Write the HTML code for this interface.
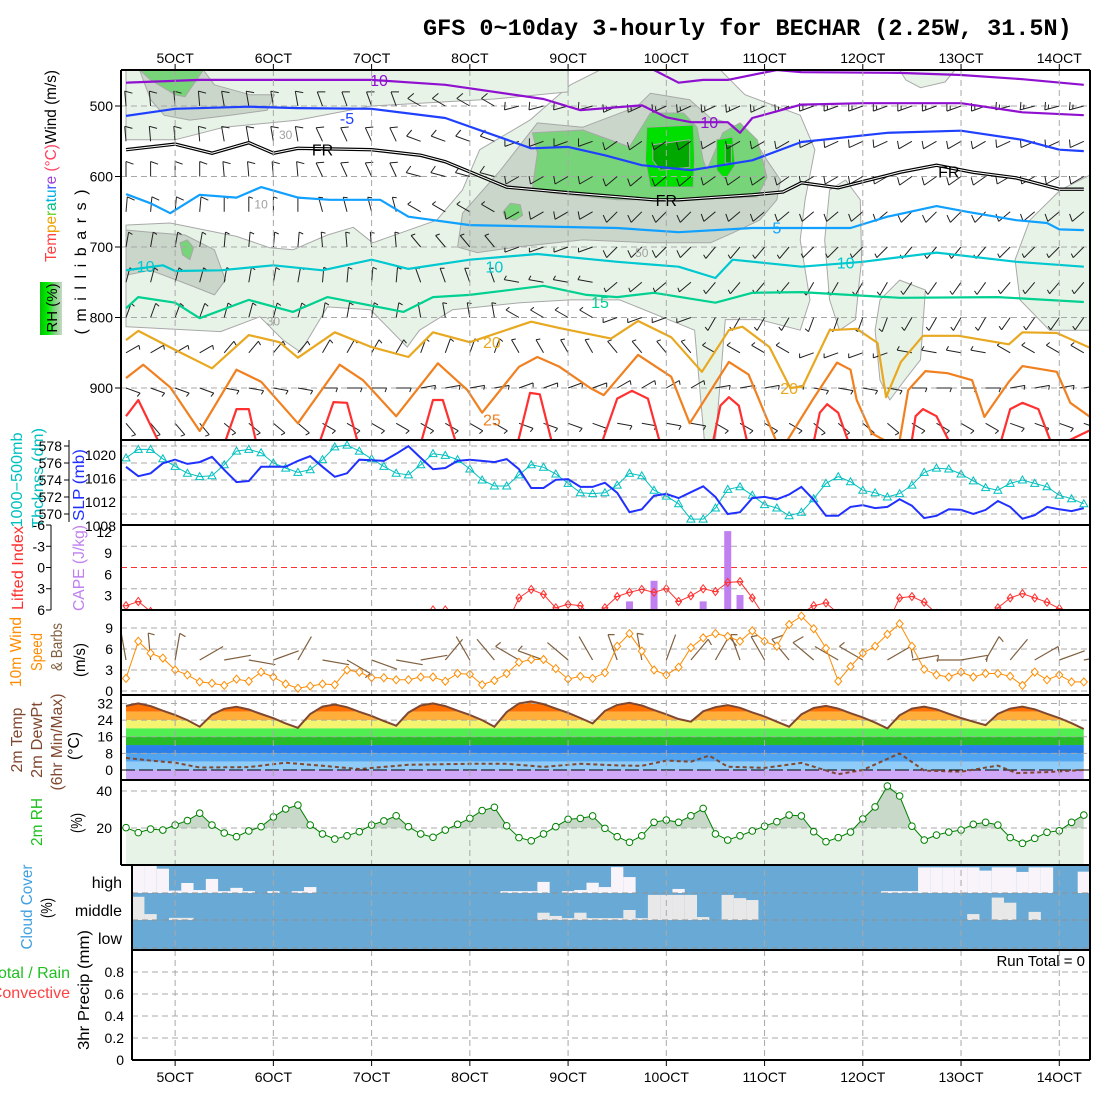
<!DOCTYPE html>
<html><head><meta charset="utf-8">
<style>
html,body{margin:0;padding:0;background:#fff;}
svg{display:block;font-family:"Liberation Sans",sans-serif;}
</style></head>
<body>
<svg id="chart" width="1100" height="1100" viewBox="0 0 1100 1100">
<defs>
<linearGradient id="rhgrad" x1="0" y1="0" x2="1" y2="0">
<stop offset="0" stop-color="#00c000"/><stop offset="0.35" stop-color="#00f000"/><stop offset="0.65" stop-color="#78d478"/><stop offset="1" stop-color="#c8d8c8"/>
</linearGradient>
<clipPath id="upClip"><rect x="121" y="70" width="969" height="370"/></clipPath>
<clipPath id="liClip"><rect x="121" y="525" width="969" height="85"/></clipPath>
<clipPath id="wClip"><rect x="121" y="610" width="969" height="85"/></clipPath>
<clipPath id="cloudClip"><rect x="132" y="865" width="958" height="85"/></clipPath>
</defs>
<rect x="0" y="0" width="1100" height="1100" fill="#fff"/>
<text x="423" y="35" font-family="Liberation Mono, monospace" font-weight="bold" font-size="23.5" fill="#000">GFS 0~10day 3-hourly for BECHAR (2.25W, 31.5N)</text>

<!-- left labels -->
<g font-size="15.5">
<text transform="translate(56,166) rotate(-90)" text-anchor="middle" textLength="192" lengthAdjust="spacingAndGlyphs"><tspan fill="#ff4040">Tem</tspan><tspan fill="#f0a000">pe</tspan><tspan fill="#60d020">r</tspan><tspan fill="#00c080">a</tspan><tspan fill="#00b0e0">tu</tspan><tspan fill="#3050ff">r</tspan><tspan fill="#a040e0">e</tspan><tspan fill="#ff4060"> (°C)</tspan><tspan fill="#000">Wind (m/s)</tspan></text>
<rect x="40" y="282" width="22" height="53" fill="url(#rhgrad)"/>
<text transform="translate(57,308) rotate(-90)" text-anchor="middle" font-size="15" fill="#000">RH (%)</text>
<text transform="translate(86,262) rotate(-90)" text-anchor="middle" font-size="16" textLength="145" lengthAdjust="spacing">(millibars)</text>
</g>
<g font-size="15.5">
<text transform="translate(22,480) rotate(-90)" text-anchor="middle" fill="#00c0c0" textLength="95" lengthAdjust="spacingAndGlyphs">1000−500mb</text>
<text transform="translate(43,478) rotate(-90)" text-anchor="middle" fill="#00c0c0" textLength="100" lengthAdjust="spacingAndGlyphs">Thcknss (dm)</text>
<text transform="translate(84,485) rotate(-90)" text-anchor="middle" fill="#2030ff" textLength="72" lengthAdjust="spacingAndGlyphs">SLP (mb)</text>
</g>
<g font-size="15.5">
<text transform="translate(23,568) rotate(-90)" text-anchor="middle" fill="#ff3030" textLength="84" lengthAdjust="spacingAndGlyphs">Lifted Index</text>
<text transform="translate(84,568) rotate(-90)" text-anchor="middle" fill="#c080f0" textLength="86" lengthAdjust="spacingAndGlyphs">CAPE (J/kg)</text>
</g>
<g font-size="15.5">
<text transform="translate(21,652) rotate(-90)" text-anchor="middle" fill="#ff8c00" textLength="70" lengthAdjust="spacingAndGlyphs">10m Wind</text>
<text transform="translate(42,652) rotate(-90)" text-anchor="middle" fill="#ff8c00" textLength="38" lengthAdjust="spacingAndGlyphs">Speed</text>
<text transform="translate(62,647) rotate(-90)" text-anchor="middle" fill="#806040" textLength="48" lengthAdjust="spacingAndGlyphs">&amp; Barbs</text>
<text transform="translate(85,660) rotate(-90)" text-anchor="middle" fill="#000" textLength="34" lengthAdjust="spacingAndGlyphs">(m/s)</text>
</g>
<g font-size="15.5" fill="#804830">
<text transform="translate(22,740) rotate(-90)" text-anchor="middle" textLength="65" lengthAdjust="spacingAndGlyphs">2m Temp</text>
<text transform="translate(42,740) rotate(-90)" text-anchor="middle" textLength="76" lengthAdjust="spacingAndGlyphs">2m DewPt</text>
<text transform="translate(62,742) rotate(-90)" text-anchor="middle" textLength="97" lengthAdjust="spacingAndGlyphs">(6hr Min/Max)</text>
<text transform="translate(79,746) rotate(-90)" text-anchor="middle" fill="#000" textLength="28" lengthAdjust="spacingAndGlyphs">(°C)</text>
</g>
<g font-size="15.5">
<text transform="translate(42,822) rotate(-90)" text-anchor="middle" fill="#20c020" textLength="48" lengthAdjust="spacingAndGlyphs">2m RH</text>
<text transform="translate(82,823) rotate(-90)" text-anchor="middle" fill="#000" textLength="20" lengthAdjust="spacingAndGlyphs">(%)</text>
</g>
<g font-size="15.5">
<text transform="translate(32,907) rotate(-90)" text-anchor="middle" fill="#40a0e0" textLength="85" lengthAdjust="spacingAndGlyphs">Cloud Cover</text>
<text transform="translate(52,908) rotate(-90)" text-anchor="middle" fill="#000" textLength="20" lengthAdjust="spacingAndGlyphs">(%)</text>
<text x="122" y="888" text-anchor="end" font-size="16">high</text>
<text x="122" y="916" text-anchor="end" font-size="16">middle</text>
<text x="122" y="944" text-anchor="end" font-size="16">low</text>
</g>
<g font-size="16">
<text x="70" y="978" text-anchor="end" fill="#20c020">Total / Rain</text>
<text x="70" y="998" text-anchor="end" fill="#ff4040">Convective</text>
<text transform="translate(89,990) rotate(-90)" text-anchor="middle" fill="#000" textLength="120" lengthAdjust="spacingAndGlyphs">3hr Precip (mm)</text>
<text x="1085" y="966" text-anchor="end" font-size="15">Run Total = 0</text>
</g>
</svg>
<script>
// ===== data =====
const dayLabels=['5OCT','6OCT','7OCT','8OCT','9OCT','10OCT','11OCT','12OCT','13OCT','14OCT'];
const dayT=[4,12,20,28,36,44,52,60,68,76];
const pTicks=[500,600,700,800,900];
const thkTicks=[578,576,574,572,570];
const slpTicks=[1020,1016,1012,1008];
const liTicks=[-6,-3,0,3,6];
const capeTicks=[12,9,6,3];
const windTicks=[0,3,6,9];
const tempTicks=[0,8,16,24,32];
const rhTicks=[20,40];
const precipTicks=[0,0.2,0.4,0.6,0.8];

const temp2m=[30.8,32,30.7,28.5,26.5,24,20.8,26.6,29.4,
30.4,29.1,26.9,24.9,22.4,20.3,26.9,30.5,
31.5,30.2,28,26,23.5,21.3,27.6,31,
32,30.7,28.5,26.5,24,20.8,27.9,32,
33,31.7,29.5,27.5,25,22.4,28.4,31.3,
32.3,31,28.8,26.8,24.5,23.2,28.2,30.2,
31.2,29.9,27.7,25.7,23.2,20.8,26.8,29.8,
30.8,29.5,27.3,25.3,22.8,20,26.3,29.5,
30.5,29.2,27,25,23.2,21.6,27,29.5,
30.5,29.2,27,25,22.5,19.7];
const dewT=[0,2,4,6,10,13,16,19,23,28,31,34,37,40,42,44,46,47.5,49,52,55,58,60,63,65,68,71,72.5,75,78];
const dewV=[5.8,4.5,3.5,1.2,1.4,3.5,2,0.5,2.5,3,3,1.5,3,2.2,2,4.5,4,6.9,1.6,1,3.4,-2,0,8,-0.3,-0.8,2.1,-1.5,-1,0];
const rh2m=[20.2,17.5,19.4,18.9,21.6,24,28,21.6,17.3,15.3,
18.4,20.7,26,30.3,32.4,21.6,16.8,14,15.8,18,
21.6,23.8,26.6,20.7,16.8,15,18.9,22,25.2,29.4,
31.2,21.2,14.8,13.1,16.8,20.7,24.7,25.2,26.5,19.8,
15.3,12.3,15.8,23.1,24.3,23.1,26.6,30.6,16.8,13.5,
15.8,18.4,21,23.4,27,26.5,18,12.6,14.8,17.8,
24.9,31.4,42.7,37.3,21,13.5,16.2,17.8,18.9,22,
23.1,21.6,14.8,11.7,14.4,17.7,18.5,23.1,27];
const wind10=[1.8,7.1,5.4,4.7,3.0,2.3,1.3,1.1,0.8,1.7,
1.4,2.7,2.0,1.0,0.4,0.7,1.0,0.9,3.0,2.7,
1.9,1.9,1.6,1.6,2.0,2.0,1.4,2.5,2.4,0.9,
1.5,2.5,4.1,4.5,4.5,3.2,1.7,2.1,1.8,2.6,
6.4,8.2,5.7,3.0,2.3,3.4,6.2,7.6,8.2,7.8,
7.1,8.6,7.1,6.4,9.5,10.7,8.9,6.1,1.4,3.5,
5.4,6.4,8.1,9.6,6.4,3.1,2.3,2.0,2.7,2.0,
2.5,2.5,2.1,0.8,2.7,1.6,2.3,1.3,1.3];
const sfcDir=[350,355,10,60,80,100,70,30,100,120,110,100,80,40,330,320,300,290,310,330,340,350,20,40,30,340,330,320,310,300,300,60,80,90,80,30,40,60,70,80];
const thk=[576.6,577.6,577.6,576.5,575.6,574.8,574.4,574.5,575.8,577.4,577.6,577.2,576.0,
575.4,574.9,575.2,576.4,577.9,578.1,577.4,576.5,575.6,574.8,574.6,575.8,577.1,576.9,576.4,575.3,574.0,573.3,573.3,574.6,575.8,575.5,574.7,573.6,572.5,572.4,572.5,573.4,574.8,574.5,572.8,572.1,571.2,569.4,569.4,570.7,572.9,573.2,572.2,571.1,570.7,569.8,
570.2,571.8,573.6,574.4,573.8,572.8,572.5,572.0,572.4,573.4,574.9,575.4,575.3,574.7,573.9,573.1,572.8,573.6,574.0,573.6,573.2,572.2,571.8,571.2];
const slp=[1018.0,1016.4,1016.9,1018.6,1019.2,1018.5,1018.8,1019.7,1017.5,1015.4,1015.6,1018.0,1018.0,
1018.0,1019.0,1019.8,1018.0,1016.3,1016.9,1019.2,1019.1,1019.0,1020.2,1021.5,1019.5,
1017.6,1017.8,1019.0,1019.2,1019.0,1018.8,1019.3,1017.6,1014.4,1014.4,1015.8,1015.9,1014.6,1014.6,1015.3,1013.6,
1010.3,1010.8,1013.1,1013.4,1012.7,1013.7,1014.7,1012.9,1010.0,1010.3,1012.7,1012.9,1012.5,1013.3,1014.6,1012.4,
1009.7,1009.7,1011.2,1011.5,1011.0,1011.2,1012.5,1011.4,1009.3,1009.7,1010.8,1010.7,1010.0,1010.7,1012.2,1011.2,1009.2,1009.8,1011.2,1010.8,1010.5,1011.0];
const liftedIndex=[5.4,4.8,6.2,8,8,8,8,8,8,8,8,8,8,8,8,8,8,8,8,8,8,8,8,8,8,
6.0,6.0,8,8,8,8,8,4.3,3.1,3.8,5.7,5.2,5.4,7,5.7,4.1,3.5,3.1,3.5,3.0,4.8,4.0,3.0,3.4,2.1,2.0,4.3,7,8,8,6.5,5.4,5.0,6.5,8,8,8,8,4.3,4.1,4.9,6.5,8,8,8,8,5.7,4.3,3.7,4.3,4.9,5.8,7,8];
const capeT=[41,43,47,49,50];
const capeV=[2.2,5.1,2.2,12.1,3.1];
const cloudHigh=[100,100,100,90,9,37,11,52,7,19,7,0,7,0,7,22,
0,0,0,0,0,0,0,0,0,0,0,0,0,0,0,
7,7,7,41,0,7,11,38,22,96,59,0,0,0,15,
0,0,0,0,0,0,0,0,0,0,0,0,0,0,0,0,
7,7,7,95,95,95,95,95,83,95,95,78,95,95,0,0,79];
const cloudMid=[0,86,22,0,8,8,0,0,0,0,
0,0,0,0,0,0,0,0,0,0,
0,0,0,0,0,0,0,0,0,0,
0,0,0,0,27,15,7,27,7,7,
7,37,7,93,93,93,93,11,0,93,
81,74,0,0,0,0,0,0,0,0,
0,0,0,0,0,0,0,0,0,22,
0,83,64,0,30,0,0,0,0];
const cloudLow=new Array(79).fill(0);

// isotherms (time step, pressure mb)
const isoM15T=[0,40,43,45,47,49,53,55,63,68,73,78];
const isoM15P=[430,440,449,467,463,463,449,452,453,456,462,470];
const isoM10T=[0,6,12,20,26,34,37,42,44,46,49,50,51,55,60,68,73,78];
const isoM10P=[467,463,463,463,470,490,506,499,516,523,523,538,517,498,496,496,509,513];
const isoM5T=[0,4,10,14,20,26,33,36,39,42,46,51,55,62,68,73,76,78];
const isoM5P=[514,504,501,503,504,517,560,558,570,584,591,577,551,538,535,548,562,564];
const isoFRT=[0,4,7,10,12,14,20,24,26,31,36,43,45,51,53.5,55,58,63,66,69,72.5,76,78];
const isoFRP=[562,554,567,552,567,560,562,570,579,615,623,633,633,626,622,609,616,594,584,594,602,618,618];
const iso5T=[0,2,3.6,6,9,11,14,16.6,20.7,23,28,40,45,51,59,62,66,68.5,72.5,75,76,78];
const iso5P=[625,638,652,626,630,615,630,633,633,657,669,673,679,673,673,657,642,650,662,666,675,676];
const iso10T=[0,3,4,7.7,12,16,20,23,28,33.5,40,45,48,49.4,55,60,66,72.5,78];
const iso10P=[733,726,734,733,726,733,718,731,718,710,721,728,744,718,728,721,708,721,728];
const iso15T=[0,1,4,6,10,13.6,16.4,22.6,25,28,34,37.5,40,43,48,51,55,63,71,78];
const iso15P=[787,771,779,801,775,792,771,792,771,768,755,768,771,765,779,765,764,772,771,778];
const iso20T=[0,1,4,7,10,12.5,14,17,20,23,25,28,33,35.3,39.5,41.7,44.4,46.9,49.1,50.2,52.4,54.1,55.1,57.3,59.5,61.2,61.9,63.1,64.9,67.8,71.9,73,75.8,78.5];
const iso20P=[832,819,846,872,825,835,857,821,842,856,821,835,806,815,830,805,828,877,818,813,842,900,898,818,816,836,913,863,826,826,838,821,822,843];
const iso25T=[0,1.4,3.6,6,9,11,14,17.4,19.3,22,25.4,27.8,29,32,33.5,35.3,37.8,38.9,41.7,44.4,45.9,49.1,50.7,53.3,55.9,57.9,59,59.5,60.7,62.9,63.7,65.1,66.9,68.9,69.9,71.9,73,75.8,76.9,78.5];
const iso25P=[886,867,899,961,874,891,950,867,889,940,865,903,935,870,856,870,900,910,853,884,950,863,881,990,917,864,874,917,964,985,903,876,879,889,941,891,869,877,921,941];
const iso30T=[0,1,2.9,7.9,9,10,10.7,15.6,16.9,18,19,23.9,25,25.8,27,31.8,32.9,33.7,34.8,38.6,40,41.2,42.5,43.6,47.7,48.4,49.1,49.9,50.7,55.9,56.5,57.1,58,59,63.9,64.3,64.9,66,67.3,71.1,72,73,74.3,75.5,78.5];
const iso30P=[940,917,985,985,930,930,985,985,920,921,985,985,917,917,985,985,907,909,985,985,915,904,915,985,985,925,913,925,985,985,935,923,935,985,985,940,930,940,985,985,930,921,930,985,960];

// RH (%) contour regions, vertices [time step, pressure mb]
const rh30Main=[[0,669],[3.6,666],[9,685],[11.7,701],[13.6,704],[16.4,683],[18.5,672],[20.1,694],[25.3,662],[27.4,619],[28.8,562],[32.9,520],[36.2,470],[38.6,449],[48.4,449],[50.4,484],[54.9,513],[56.1,562],[55.3,633],[54.9,690],[55.7,775],[54.9,818],[51.6,803],[48.8,803],[48,975],[47.1,975],[46.3,818],[40.2,775],[36.2,775],[32.1,779],[26.6,789],[23.9,818],[22.9,842],[19.9,789],[16.4,785],[14.2,849],[12.8,832],[10.9,799],[7.7,820],[0,813]];
const rh30TopLeft=[[0,449],[36,449],[36,480],[30,490],[20,500],[14,520],[8,530],[4,548],[0,548]];
const rh30StripA=[[57.3,619],[58.6,605],[59.8,633],[59.9,718],[59.4,803],[58.1,818],[57.3,775],[56.9,690]];
const rh30StripB=[[61.4,775],[63,747],[65.1,761],[64.7,860],[63.4,889],[62.2,917],[61.4,889],[61,818]];
const rh30Right=[[78.5,598],[76.1,619],[73.6,662],[72.4,718],[72.8,775],[75.2,818],[78.5,818]];
const rh30TopRight=[[63,449],[67.5,449],[66.7,466],[64.7,474],[63.5,463]];
const rh50TopLeft=[[1.1,449],[6.3,449],[7.2,470],[10.1,484],[12.1,484],[11.5,506],[8.5,513],[5.2,520],[3.1,513],[2,491]];
const rh50Left=[[0,676],[2,679],[4.8,683],[7.2,704],[8.1,747],[7.2,768],[5.2,754],[2,733],[0,740]];
const rh50Center=[[27,700],[27.4,652],[30.5,591],[33.5,524],[37.2,530],[41.6,501],[42.7,482],[45.9,491],[47.6,517],[48.9,523],[50.8,538],[52.2,577],[53.3,605],[53,633],[51.6,662],[49.4,680],[47.6,694],[42.7,694],[37.2,690],[31.8,700],[28.6,708]];
const rh70Center=[[33.1,538],[37.2,534],[41,558],[42.7,510],[45.4,510],[46.5,530],[47,577],[47.3,591],[48.6,538],[50,524],[51.4,548],[52.2,601],[51.4,629],[45.4,633],[40,633],[34.5,623],[33.1,615],[33.5,567]];
const rh70SmallA=[[30.7,650],[31.3,638],[32.1,640],[32.3,655],[31.7,662],[30.9,659]];
const rh70SmallB=[[4.4,694],[5.0,690],[5.5,701],[5.2,718],[4.6,711]];
const rh70TopLeft=[[1.1,449],[6.3,449],[4.8,487],[4,484],[2,463]];
const rh80A=[[42.4,530],[46.2,527],[46.3,577],[46.2,615],[42.7,615],[42.3,577]];
const rh80B=[[48.1,548],[49.4,544],[49.6,584],[48.8,605],[48.1,591]];
const rh90A=[[42.9,555],[45.9,548],[45.9,587],[43.5,591],[42.9,577]];
const rh90B=[[48.8,555],[49.3,555],[49.3,581],[48.8,581]];

// upper-air winds: levels, direction (deg from) and speed (m/s) per day
const windLevels=[500,550,600,650,700,750,800,850,900,950];
const windDir=[
[355,350,340,300,255,245,245,250,250,255],
[355,350,335,290,250,235,240,245,240,245],
[0,355,335,285,240,230,235,240,235,240],
[5,0,345,300,240,225,230,230,225,230],
[10,5,355,320,250,225,220,225,220,225],
[15,10,5,340,280,230,220,210,215,220],
[20,15,10,350,300,250,210,200,210,215],
[60,40,30,20,330,320,300,250,280,300],
[110,100,90,80,70,60,80,100,90,80],
[140,130,120,120,110,100,120,130,120,110]];
const windSpd=[
[12,12,10,10,12,14,15,14,13,13],
[10,10,9,9,11,12,12,11,11,11],
[8,8,8,8,9,10,10,9,9,9],
[8,7,7,7,8,9,8,8,8,8],
[7,7,6,6,7,8,7,7,7,7],
[6,6,5,5,6,7,6,6,6,6],
[5,5,5,4,5,5,5,5,5,5],
[3,3,3,3,3,4,3,3,3,3],
[4,4,4,4,4,4,4,4,4,4],
[5,5,5,5,5,5,5,5,5,5]];

// ===== axes =====
const X=t=>126+t*12.28;
const Yp=p=>106+(p-500)*0.705;
const Yth=v=>446+(578-v)*8.5;
const Ys=v=>455+(1020-v)*5.9;
const Yli=v=>567.5+v*7.08;
const Ycape=v=>617-v*7.1;
const Yw=v=>691-v*7.0;
const Yt=v=>770-v*2.08;
const Yrh=v=>865-v*1.85;
const Ypr=v=>1060-v*110;
const steps=temp2m.map((v,i)=>i);

const NS='http://www.w3.org/2000/svg';
const svg=document.getElementById('chart');
function mk(parent,tag,a){const e=document.createElementNS(NS,tag);for(const k in a)e.setAttribute(k,a[k]);parent.appendChild(e);return e;}
function pts(ts,vs,yf){return ts.map((t,i)=>X(t).toFixed(1)+','+yf(vs[i]).toFixed(1)).join(' ');}
function polyPts(arr){return arr.map(a=>X(a[0]).toFixed(1)+','+Yp(a[1]).toFixed(1)).join(' ');}
const GRID='#a8a8a8';

// ===== upper panel =====
const up=mk(svg,'g',{'clip-path':'url(#upClip)'});


const rhLayers=[
 [rh30Main,'#e8f3e8'],[rh30TopLeft,'#e8f3e8'],[rh30StripA,'#e8f3e8'],[rh30StripB,'#e8f3e8'],[rh30Right,'#e8f3e8'],[rh30TopRight,'#e8f3e8'],
 [rh50TopLeft,'#c9d6c9'],[rh50Left,'#c9d6c9'],[rh50Center,'#c9d6c9'],
 [rh70Center,'#78d478'],[rh70SmallA,'#78d478'],[rh70SmallB,'#78d478'],[rh70TopLeft,'#78d478'],
 [rh80A,'#00e000'],[rh80B,'#00e000'],[rh90A,'#00a800'],[rh90B,'#00a800']];
rhLayers.forEach(L=>{
 const e=mk(up,'polygon',{points:polyPts(L[0]),fill:L[1],stroke:'#a8a8a8','stroke-width':1,'stroke-linejoin':'round'});
 
 
});
pTicks.forEach(p=>{
 const e=mk(up,'line',{x1:121,x2:1090,y1:Yp(p),y2:Yp(p),stroke:GRID,'stroke-dasharray':'6,4'});
 
 
});
// barbs
function barbPath(x,y,dir,spd,L,F){
 const r=dir*Math.PI/180,dx=Math.sin(r),dy=-Math.cos(r);
 const ex=x+dx*L,ey=y+dy*L;
 const fr=(dir+110)*Math.PI/180,fx=Math.sin(fr),fy=-Math.cos(fr);
 let d='M'+x.toFixed(1)+','+y.toFixed(1)+'L'+ex.toFixed(1)+','+ey.toFixed(1);
 if(spd>=2.5){
  const len=spd>=7.5?F:F*0.55;
  d+='M'+ex.toFixed(1)+','+ey.toFixed(1)+'l'+(fx*len).toFixed(1)+','+(fy*len).toFixed(1);
 }
 if(spd>=12.5){
  const bx=ex-dx*3.5,by=ey-dy*3.5;
  d+='M'+bx.toFixed(1)+','+by.toFixed(1)+'l'+(fx*F*0.55).toFixed(1)+','+(fy*F*0.55).toFixed(1);
 }
 return d;
}
const barbG=mk(up,'g',{stroke:'#202020','stroke-width':1,fill:'none'});


windLevels.forEach((p,li)=>{
 for(let t=0;t<=78;t+=2){
  const d=Math.min(9,Math.floor(t/8));
  const e=mk(barbG,'path',{d:barbPath(X(t),Yp(p),windDir[li][d],windSpd[li][d],15,8)});
  
  
 }
});
const isoList=[
 [isoM15T,isoM15P,'#9010d0','isotherm-minus15'],[isoM10T,isoM10P,'#9010d0','isotherm-minus10'],
 [isoM5T,isoM5P,'#2040ff','isotherm-minus5'],[iso5T,iso5P,'#10a0ff','isotherm-5'],
 [iso10T,iso10P,'#00c8d0','isotherm-10'],[iso15T,iso15P,'#00d090','isotherm-15'],
 [iso20T,iso20P,'#e8a820','isotherm-20'],[iso25T,iso25P,'#f08020','isotherm-25'],
 [iso30T,iso30P,'#ff3030','isotherm-30']];
isoList.forEach(L=>{
 const e=mk(up,'polyline',{points:pts(L[0],L[1],Yp),fill:'none',stroke:L[2],'stroke-width':2.2,'stroke-linejoin':'round'});
 
 
});
const fr1=mk(up,'polyline',{points:pts(isoFRT,isoFRP,Yp),fill:'none',stroke:'#000','stroke-width':3.4});


const fr2=mk(up,'polyline',{points:pts(isoFRT,isoFRP,Yp),fill:'none',stroke:'#fff','stroke-width':1});


const isoLabels=[[20.6,463,'10','#9010d0'],[47.5,523,'10','#9010d0'],[18,517,'-5','#2040ff'],[16,562,'FR','#000'],[44,633,'FR','#000'],[67,593,'FR','#000'],[53,672,'5','#10a0ff'],[1.6,727,'10','#00c8d0'],[30,728,'10','#00c8d0'],[58.6,722,'10','#00c8d0'],[38.6,778,'15','#00d090'],[29.8,835,'20','#e8a820'],[54,900,'20','#e8a820'],[29.8,945,'25','#f08020'],[13,538,'30','#a0a0a0'],[11,637,'10','#a0a0a0'],[12,803,'30','#a0a0a0'],[42,706,'50','#a0a0a0']];
isoLabels.forEach(L=>{
 const e=mk(up,'text',{x:X(L[0]),y:Yp(L[1])+6,fill:L[3],'font-size':(L[3]==='#a0a0a0'?12:16),'text-anchor':'middle'});
 e.textContent=L[2];
 
 
});
pTicks.forEach(p=>{
 const e=mk(svg,'text',{x:113,y:Yp(p)+5,'font-size':14,'text-anchor':'end'});
 e.textContent=p;
 
 
 const k=mk(svg,'line',{x1:115,x2:121,y1:Yp(p),y2:Yp(p),stroke:'#000'});
 
 
});

// ===== thickness / SLP =====
const g2=mk(svg,'g',{});


thkTicks.forEach(v=>{
 const e=mk(g2,'line',{x1:121,x2:1090,y1:Yth(v),y2:Yth(v),stroke:GRID,'stroke-dasharray':'6,4'});
 
 
 const t=mk(svg,'text',{x:62,y:Yth(v)+5,'font-size':14,'text-anchor':'end'});
 t.textContent=v;
 
 
 const k=mk(svg,'line',{x1:64,x2:69,y1:Yth(v),y2:Yth(v),stroke:'#000'});
 
 
});
const thAx=mk(svg,'line',{x1:69,x2:69,y1:440,y2:522,stroke:'#000'});


slpTicks.forEach(v=>{
 const t=mk(svg,'text',{x:116,y:Ys(v)+5,'font-size':14,'text-anchor':'end'});
 t.textContent=v;
 
 
});
const thkLine=mk(g2,'polyline',{points:pts(steps,thk,Yth),fill:'none',stroke:'#00c0c0','stroke-width':1});


thk.forEach((v,i)=>{
 const x=X(i),y=Yth(v);
 const e=mk(g2,'polygon',{points:`${x},${y-4} ${x-4},${y+3} ${x+4},${y+3}`,fill:'none',stroke:'#00c0c0','stroke-width':1});
 
 
});
const slpLine=mk(g2,'polyline',{points:pts(steps,slp,Ys),fill:'none',stroke:'#2030ff','stroke-width':2});



// ===== LI / CAPE =====
const g3=mk(svg,'g',{'clip-path':'url(#liClip)'});


[-3,3].forEach(v=>{
 const e=mk(g3,'line',{x1:121,x2:1090,y1:Yli(v),y2:Yli(v),stroke:GRID,'stroke-dasharray':'6,4'});
 
 
});
const zeroLi=mk(g3,'line',{x1:121,x2:1090,y1:Yli(0),y2:Yli(0),stroke:'#ff3030','stroke-dasharray':'6,4'});


capeT.forEach((t,i)=>{
 const y=Ycape(capeV[i]);
 const e=mk(g3,'rect',{x:X(t)-3.5,y:y,width:7,height:610-y,fill:'#c080f0'});
 
 
});
const liLine=mk(g3,'polyline',{points:pts(steps,liftedIndex,Yli),fill:'none',stroke:'#ff3030','stroke-width':1});


liftedIndex.forEach((v,i)=>{
 if(v>6.6)return;
 const x=X(i),y=Yli(v);
 const e=mk(g3,'path',{d:`M${x},${y-4}L${x+3},${y}L${x},${y+4}L${x-3},${y}ZM${x-3},${y}L${x+3},${y}`,fill:'none',stroke:'#ff3030','stroke-width':1});
 
 
});
liTicks.forEach(v=>{
 const t=mk(svg,'text',{x:45,y:Yli(v)+5,'font-size':14,'text-anchor':'end'});
 t.textContent=v;
 
 
 const k=mk(svg,'line',{x1:46,x2:51,y1:Yli(v),y2:Yli(v),stroke:'#000'});
 
 
});
const liAx=mk(svg,'line',{x1:51,x2:51,y1:525,y2:610,stroke:'#000'});


capeTicks.forEach(v=>{
 const t=mk(svg,'text',{x:112,y:Ycape(v)+5,'font-size':14,'text-anchor':'end'});
 t.textContent=v;
 
 
});

// ===== 10m wind =====
const g4=mk(svg,'g',{'clip-path':'url(#wClip)'});


windTicks.forEach(v=>{
 const e=mk(g4,'line',{x1:121,x2:1090,y1:Yw(v),y2:Yw(v),stroke:GRID,'stroke-dasharray':'6,4'});
 
 
 const t=mk(svg,'text',{x:113,y:Yw(v)+5,'font-size':14,'text-anchor':'end'});
 t.textContent=v;
 
 
});
sfcDir.forEach((d,i)=>{
 const t=i*2;
 const e=mk(g4,'path',{d:barbPath(X(t),660,d,wind10[t],27,12),fill:'none',stroke:'#806040','stroke-width':1.2});
 
 
});
const wLine=mk(g4,'polyline',{points:pts(steps,wind10,Yw),fill:'none',stroke:'#ff8c00','stroke-width':1});


wind10.forEach((v,i)=>{
 const x=X(i),y=Yw(v);
 const e=mk(g4,'path',{d:`M${x},${y-4}L${x+3.5},${y}L${x},${y+4}L${x-3.5},${y}Z`,fill:'#fff',stroke:'#ff8c00','stroke-width':1});
 
 
});

// ===== 2m temperature =====
const g5=mk(svg,'g',{});


const defs=svg.querySelector('defs');
const tc=mk(defs,'clipPath',{id:'tempClip'});
const tcp=mk(tc,'polygon',{points:pts(steps,temp2m,Yt)+` ${X(78)},780 ${X(0)},780`});


const tBands=[[28,40,'#ff7000'],[24,28,'#ffae3a'],[20,24,'#f4f470'],[16,20,'#50ee50'],[12,16,'#28bc28'],[8,12,'#2a80e8'],[4,8,'#50a4f0'],[0,4,'#90ccf8'],[-5,0,'#d0a8f8']];
const tBandG=mk(g5,'g',{'clip-path':'url(#tempClip)'});


tBands.forEach(b=>{
 const y1=Yt(b[1]),y2=Math.min(780,Yt(b[0]));
 const e=mk(tBandG,'rect',{x:X(0),y:y1,width:X(78)-X(0),height:y2-y1,fill:b[2]});
 
 
});
[8,16,24,32].forEach(v=>{
 const e=mk(g5,'line',{x1:121,x2:1090,y1:Yt(v),y2:Yt(v),stroke:GRID,'stroke-dasharray':'6,4'});
 
 
});
const t0=mk(g5,'line',{x1:121,x2:1090,y1:Yt(0),y2:Yt(0),stroke:'#000','stroke-dasharray':'14,4'});


tempTicks.forEach(v=>{
 const t=mk(svg,'text',{x:113,y:Yt(v)+5,'font-size':14,'text-anchor':'end'});
 t.textContent=v;
 
 
});
const dewLine=mk(g5,'polyline',{points:pts(dewT,dewV,Yt),fill:'none',stroke:'#804830','stroke-width':2,'stroke-dasharray':'4,3'});


const tLine=mk(g5,'polyline',{points:pts(steps,temp2m,Yt),fill:'none',stroke:'#804830','stroke-width':2});



// ===== 2m RH =====
const g6=mk(svg,'g',{});


const rc=mk(defs,'clipPath',{id:'rhClip'});
const rcp=mk(rc,'polygon',{points:pts(steps,rh2m,Yrh)+` ${X(78)},865 ${X(0)},865`});


const rhBandG=mk(g6,'g',{'clip-path':'url(#rhClip)'});


[[0,20,'#e8f3e8'],[20,40,'#c9d9c9'],[40,60,'#a0cca0']].forEach(b=>{
 const e=mk(rhBandG,'rect',{x:X(0),y:Yrh(b[1]),width:X(78)-X(0),height:Yrh(b[0])-Yrh(b[1]),fill:b[2]});
 
 
});
rhTicks.forEach(v=>{
 const e=mk(g6,'line',{x1:121,x2:1090,y1:Yrh(v),y2:Yrh(v),stroke:GRID,'stroke-dasharray':'6,4'});
 
 
 const t=mk(svg,'text',{x:112,y:Yrh(v)+5,'font-size':14,'text-anchor':'end'});
 t.textContent=v;
 
 
});
const rhLine=mk(g6,'polyline',{points:pts(steps,rh2m,Yrh),fill:'none',stroke:'#008000','stroke-width':1});


rh2m.forEach((v,i)=>{
 const e=mk(g6,'circle',{cx:X(i),cy:Yrh(v),r:3.3,fill:'#fff',stroke:'#008000','stroke-width':1});
 
 
});

// ===== clouds =====
const g7=mk(svg,'g',{'clip-path':'url(#cloudClip)'});


const cbg=mk(g7,'rect',{x:132,y:865,width:958,height:85,fill:'#68aad5'});


const layers=[[cloudHigh,893,'#f8f4fa','high-cloud-bar'],[cloudMid,920,'#e8e8e8','mid-cloud-bar'],[cloudLow,948,'#e0e0e0','low-cloud-bar']];
layers.forEach(L=>{
 L[0].forEach((v,i)=>{
  if(v<=0)return;
  const h=v/100*27;
  const e=mk(g7,'rect',{x:X(i)-6.14,y:L[1]-h,width:12.28,height:h,fill:L[2]});
  
  
 });
});
[893,920,948].forEach(y=>{
 const e=mk(g7,'line',{x1:132,x2:1090,y1:y,y2:y,stroke:'#909090','stroke-dasharray':'6,4'});
 
 
});

// ===== precip =====
const g8=mk(svg,'g',{});


precipTicks.forEach(v=>{
 if(v>0){
  const e=mk(g8,'line',{x1:132,x2:1090,y1:Ypr(v),y2:Ypr(v),stroke:GRID,'stroke-dasharray':'6,4'});
  
  
 }
 const t=mk(svg,'text',{x:124,y:Ypr(v)+5,'font-size':14,'text-anchor':'end'});
 t.textContent=v;
 
 
});

// ===== day grid & labels =====
const dg=mk(svg,'g',{});


dayT.forEach((t,i)=>{
 const x=X(t);
 const e=mk(dg,'line',{x1:x,x2:x,y1:70,y2:1060,stroke:GRID,'stroke-dasharray':'6,4'});
 
 
 const a=mk(svg,'text',{x:x,y:63,'font-size':14,'text-anchor':'middle'});
 a.textContent=dayLabels[i];
 
 
 const b=mk(svg,'text',{x:x,y:1082,'font-size':14,'text-anchor':'middle'});
 b.textContent=dayLabels[i];
 
 
 const k1=mk(svg,'line',{x1:x,x2:x,y1:64,y2:70,stroke:'#000'});
 
 
 const k2=mk(svg,'line',{x1:x,x2:x,y1:1060,y2:1066,stroke:'#000'});
 
 
});

// ===== frames =====
const fg=mk(svg,'g',{stroke:'#000','stroke-width':2,fill:'none'});


[[121,70,1090,70],[121,440,1090,440],[121,525,1090,525],[121,610,1090,610],[121,695,1090,695],[121,780,1090,780],[121,865,1090,865],[132,950,1090,950],[132,1060,1090,1060],[121,70,121,865],[132,865,132,1060],[1090,70,1090,1060]].forEach(s=>{
 const e=mk(fg,'line',{x1:s[0],y1:s[1],x2:s[2],y2:s[3]});
 
 
});
</script>
</body></html>
